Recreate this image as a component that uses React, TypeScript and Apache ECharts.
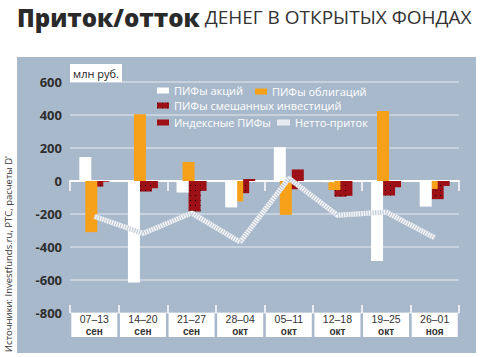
import React, { useEffect, useRef } from 'react';
import * as echarts from 'echarts';

const weeks = ['07–13', '14–20', '21–27', '28–04', '05–11', '12–18', '19–25', '26–01'];
const months = ['сен', 'сен', 'сен', 'окт', 'окт', 'окт', 'окт', 'ноя'];
const equityFunds = [145, -615, -70, -160, 205, -7, -485, -155];
const bondFunds = [-310, 405, 115, -124, -205, -55, 425, -48];
const mixedFunds = [-34, -64, -185, -74, -50, -95, -88, -110];
const indexFunds = [-5, -44, -60, 12, 70, -90, -38, -30];
const netFlow = [-214, -318, -194, -370, 16, -208, -188, -344];
const yMin = -800;
const yMax = 600;
const yStep = 200;

const FONT = '"Open Sans", "Noto Sans", sans-serif';
const LFONT = '"Liberation Sans", Arial, sans-serif';
const categories = weeks.map((w, i) => `{w|${w}}\n{m|${months[i]}}`);

export default function App() {
  const ref = useRef<HTMLDivElement>(null);
  useEffect(() => {
    const chart = echarts.init(ref.current!, null, { renderer: 'svg' });
    const li = (name: string, left: number, top: number, extra: any = {}) => ({
      data: [name],
      left,
      top,
      icon: 'rect',
      itemWidth: 12,
      itemHeight: 6,
      padding: 0,
      selectedMode: false,
      textStyle: { color: '#ffffff', fontSize: 11, fontFamily: FONT },
      ...extra,
    });
    const option: any = {
      animation: false,
      backgroundColor: '#ffffff',
      title: {
        left: 12,
        top: 0,
        text: '{a|Приток/отток} {b|ДЕНЕГ В ОТКРЫТЫХ ФОНДАХ}',
        textStyle: {
          rich: {
            a: { fontSize: 24, fontWeight: 800, fontFamily: FONT, color: '#2a2a2a' },
            b: { fontSize: 19, fontWeight: 'normal', fontFamily: FONT, color: '#333333' },
          },
        },
      },
      graphic: [
        { type: 'rect', z: -100, shape: { x: 17, y: 57, width: 459, height: 296 }, style: { fill: '#a9b9cc' } },
        { type: 'rect', z: 100, shape: { x: 70, y: 64, width: 52, height: 18 }, style: { fill: '#ffffff' } },
        {
          type: 'text', z: 101, x: 96, y: 73,
          style: { text: 'млн руб.', fill: '#222222', font: `11px ${FONT}`, align: 'center', verticalAlign: 'middle', textAlign: 'center', textVerticalAlign: 'middle' },
        },
        {
          type: 'text', z: 101, x: 8, y: 254, rotation: Math.PI / 2,
          style: { text: "Источники: Investfunds.ru, РТС, расчеты D'", fill: '#333333', font: `9.5px ${FONT}`, align: 'center', verticalAlign: 'middle', textAlign: 'center', textVerticalAlign: 'middle' },
        },
      ],
      legend: [
        li('ПИФы акций', 157, 85),
        li('ПИФы облигаций', 255, 86),
        li('ПИФы смешанных инвестиций', 157, 100),
        li('Индексные ПИФы', 157, 117),
        li('Нетто-приток', 277, 117, { itemWidth: 13 }),
      ],
      grid: { left: 70, right: 21, top: 82, bottom: 44, containLabel: false },
      xAxis: [
        {
          type: 'category',
          data: categories,
          position: 'bottom',
          axisLine: { show: false, onZero: false },
          axisTick: { show: true, inside: true, length: 8, lineStyle: { color: '#ffffff', width: 1.5 } },
          axisLabel: {
            interval: 0,
            margin: 0,
            color: '#333333',
            fontSize: 10,
            fontFamily: LFONT,
            lineHeight: 12,
            backgroundColor: '#ffffff',
            width: 46,
            padding: [0, 0, 0, 0],
            align: 'center',
            rich: {
              w: { fontSize: 10.5, lineHeight: 12, fontFamily: LFONT, color: '#333333' },
              m: { fontSize: 10, lineHeight: 12, fontFamily: LFONT, color: '#333333', fontWeight: 'bold' },
            },
          },
          splitLine: { show: false },
        },
        {
          type: 'category',
          data: categories,
          position: 'bottom',
          axisLine: { show: true, onZero: true, lineStyle: { color: '#ffffff', width: 2 } },
          axisTick: { show: true, inside: false, length: 10, lineStyle: { color: '#ffffff', width: 1.5 } },
          axisLabel: { show: false },
          splitLine: { show: false },
        },
      ],
      yAxis: {
        type: 'value',
        min: yMin,
        max: yMax,
        interval: yStep,
        axisLine: { show: false },
        axisTick: { show: false },
        axisLabel: { color: '#2f2f2f', fontSize: 13, fontWeight: 'bold', fontFamily: FONT, margin: 8 },
        splitLine: { show: true, lineStyle: { color: '#d3dbe5', width: 1.5 } },
      },
      series: [
        {
          name: 'ПИФы акций', type: 'bar', data: equityFunds, barWidth: 12, barGap: '-50%', z: 5,
          itemStyle: { color: '#ffffff' },
        },
        {
          name: 'ПИФы облигаций', type: 'bar', data: bondFunds, barWidth: 12, barGap: '-50%', z: 4,
          itemStyle: { color: '#f7a11a' },
        },
        {
          name: 'ПИФы смешанных инвестиций', type: 'bar', data: mixedFunds, barWidth: 12, barGap: '-50%', z: 3,
          itemStyle: {
            color: '#9c1016',
            decal: { symbol: 'rect', symbolSize: 1, color: '#1a0000', dashArrayX: [1, 4], dashArrayY: [1, 4], rotation: 0 },
          },
        },
        {
          name: 'Индексные ПИФы', type: 'bar', data: indexFunds, barWidth: 12, barGap: '-50%', z: 2,
          itemStyle: { color: '#9c1016' },
        },
        {
          name: 'Нетто-приток', type: 'line', data: netFlow, z: 6, symbol: 'none',
          itemStyle: { color: '#e6ebf1' },
          lineStyle: { color: '#f4f6f9', width: 5 },
        },
        {
          name: 'netHatch', type: 'line', data: netFlow, z: 7, symbol: 'none',
          lineStyle: { color: '#bcc6d2', width: 5, type: [1, 1.5] },
        },
      ],
    };
    chart.setOption(option);
    return () => chart.dispose();
  }, []);
  return <div ref={ref} style={{ position: 'absolute', left: 0, top: 0, width: 480, height: 357 }} />;
}
